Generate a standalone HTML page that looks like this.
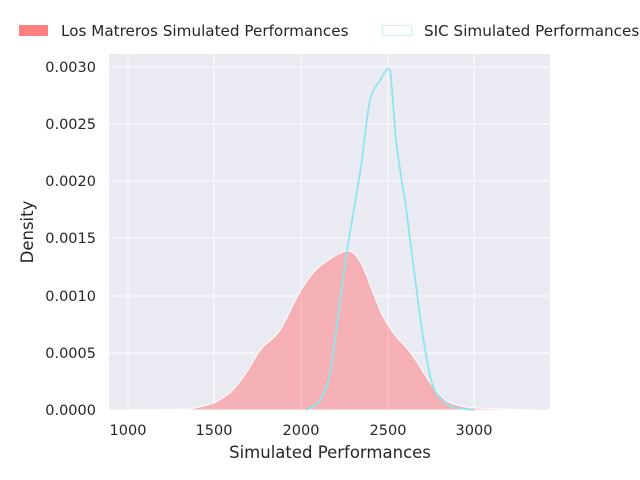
<!DOCTYPE html><html><head><style>body{margin:0;background:#fff}svg{display:block}text{font-family:"DejaVu Sans","Liberation Sans",sans-serif;fill:#262626}</style></head><body>
<svg width="640" height="480" xmlns="http://www.w3.org/2000/svg">
<rect x="109" y="54" width="441" height="356" fill="#eaeaf2"/>
<g stroke="#fff" stroke-width="1">
<line x1="128" y1="54" x2="128" y2="410"/><line x1="214" y1="54" x2="214" y2="410"/><line x1="301" y1="54" x2="301" y2="410"/><line x1="388" y1="54" x2="388" y2="410"/><line x1="474" y1="54" x2="474" y2="410"/>
<line x1="109" y1="410" x2="550" y2="410"/><line x1="109" y1="353" x2="550" y2="353"/><line x1="109" y1="296" x2="550" y2="296"/><line x1="109" y1="238" x2="550" y2="238"/><line x1="109" y1="181" x2="550" y2="181"/><line x1="109" y1="124" x2="550" y2="124"/><line x1="109" y1="67" x2="550" y2="67"/>
</g>
<path d="M128,410 L190,409 C200,407 208,405 214,403 C222,399 226,396 231,392 C238,385 243,378 248,370 C254,360 259,350 266,344 C274,338 278,334 283,325 C290,312 295,300 301,290 C307,281 312,273 318,268 C325,262 330,259 335,256 C340,253 344,251 348,251 C354,251 358,258 362,265 C366,273 368,279 370,285 C376,300 381,315 388,325 C394,335 399,340 405,346 C411,352 416,361 422,370 C428,380 434,389 440,395 C446,401 451,404 457,405 C464,407 469,408 474,408 L535,410 Z" fill="#f4b0b5" stroke="#fff" stroke-width="1"/>
<g stroke="#fbd0d2" stroke-width="1" opacity="0.6">
<line x1="214" y1="403" x2="214" y2="410"/><line x1="301" y1="290" x2="301" y2="410"/><line x1="388" y1="325" x2="388" y2="410"/>
</g>
<path d="M306,410 C311,408 315,406 318,403 C322,398 324,393 327,385 C331,372 333,356 335,340 C338,318 341,292 344,270 C347,250 350,232 353,215 C356,197 359,180 362,160 C365,135 367,115 370,100 C373,90 376,86 379,82 C382,77 385,70 388,69 C390,69 391,74 391,80 C393,98 394,118 396,140 C399,165 402,183 405,200 C408,224 411,248 414,270 C417,292 419,312 422,330 C425,350 428,368 431,380 C434,390 437,395 440,398 C446,404 451,407 457,408 L474,410" fill="none" stroke="#8ee5ee" stroke-width="1.8"/>
<g font-size="14.5" text-anchor="end">
<text x="96" y="415">0.0000</text><text x="96" y="358">0.0005</text><text x="96" y="301">0.0010</text><text x="96" y="243">0.0015</text><text x="96" y="186">0.0020</text><text x="96" y="129">0.0025</text><text x="96" y="72">0.0030</text>
</g>
<g font-size="14.5" text-anchor="middle">
<text x="128" y="435">1000</text><text x="214" y="435">1500</text><text x="301" y="435">2000</text><text x="388" y="435">2500</text><text x="474" y="435">3000</text>
</g>
<text x="330" y="458" font-size="16.5" text-anchor="middle">Simulated Performances</text>
<text transform="translate(33,232) rotate(-90)" font-size="16.5" text-anchor="middle">Density</text>
<rect x="19" y="25" width="29" height="11" fill="#ff8080"/>
<text x="61" y="36" font-size="15.2">Los Matreros Simulated Performances</text>
<rect x="382.5" y="25.5" width="29" height="10" fill="#fff" stroke="#c9f2f6"/>
<text x="424" y="36" font-size="15.2">SIC Simulated Performances</text>
</svg></body></html>
